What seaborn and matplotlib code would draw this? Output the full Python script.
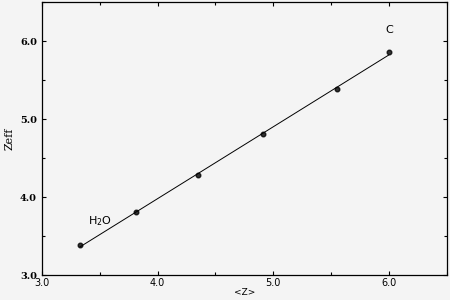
import matplotlib
matplotlib.use("Agg")
import matplotlib.pyplot as plt
import seaborn as sns
import numpy as np
import pandas as pd
from matplotlib.ticker import MultipleLocator

z_mean = [3.33, 3.81, 4.35, 4.91, 5.55, 6.00]
z_eff = [3.38, 3.81, 4.28, 4.81, 5.38, 5.86]
x_ticks = [3.0, 4.0, 5.0, 6.0]
y_ticks = [3.0, 4.0, 5.0, 6.0]

df = pd.DataFrame({"z": z_mean, "zeff": z_eff})

sns.set_theme(style="ticks", rc={"text.color": "black", "axes.labelcolor": "black",
                                 "xtick.color": "black", "ytick.color": "black"})
bg = "#f4f4f4"
fig = plt.figure(figsize=(4.5, 3), dpi=100, facecolor=bg)
ax = fig.add_axes([0.093, 0.083, 0.9, 0.91])
ax.set_facecolor(bg)

sns.regplot(data=df, x="z", y="zeff", ax=ax, ci=None, truncate=True,
            scatter_kws=dict(s=11, color="black", zorder=3),
            line_kws=dict(color="black", lw=0.7))

ax.set_xlim(3.0, 6.5)
ax.set_ylim(3.0, 6.5)
ax.set_xticks(x_ticks)
ax.set_yticks(y_ticks)
ax.set_xticklabels([f"{v:.1f}" for v in x_ticks])
ax.set_yticklabels([f"{v:.1f}" for v in y_ticks], family="DejaVu Serif", fontweight="bold")
ax.xaxis.set_minor_locator(MultipleLocator(0.5))
ax.yaxis.set_minor_locator(MultipleLocator(0.5))
ax.tick_params(which="both", direction="in", top=True, right=True, labelsize=7, width=0.8, colors="black")
ax.tick_params(axis="x", pad=2)
ax.tick_params(which="major", length=3)
ax.tick_params(which="minor", length=2)
for s in ax.spines.values():
    s.set_linewidth(0.9)
    s.set_color("black")

ax.set_xlabel("<Z>", fontsize=6.5, labelpad=0, color="black")
ax.set_ylabel("Zeff", fontsize=8, family="DejaVu Serif", labelpad=4, color="black")

ax.text(3.5, 3.69, "H$_2$O", fontsize=8, ha="center", va="center", color="black")
ax.text(6.0, 6.14, "C", fontsize=8, ha="center", va="center", color="black")

fig.savefig("out.png", dpi=100, facecolor=bg)
